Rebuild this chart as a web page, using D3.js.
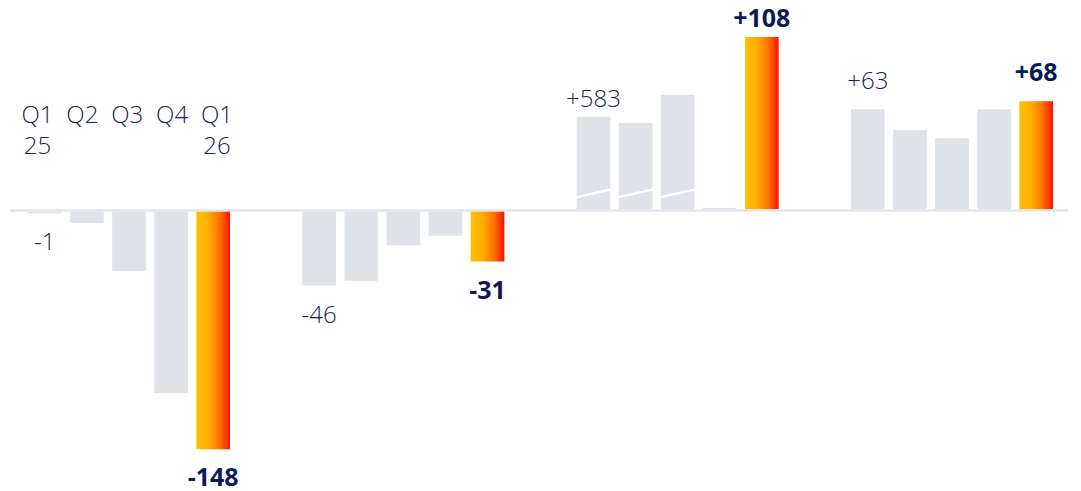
<!DOCTYPE html>
<html>
<head>
<meta charset="utf-8">
<script src="https://cdn.jsdelivr.net/npm/d3@7"></script>
<style>
  html, body { margin: 0; padding: 0; background: #fff; }
  text { font-family: "Open Sans", "Noto Sans", sans-serif; }
</style>
</head>
<body>
<div id="container"></div>
<script>
// quarters shown in each group, first and last get a year line
var quarters = ['Q1', 'Q2', 'Q3', 'Q4', 'Q1'];
var years = ['25', '', '', '', '26'];
var groups = ['g1', 'g2', 'g3', 'g4'];

// values per group (Q1 25 .. Q1 26)
var group1 = [-1, -7, -37, -113, -148];
var group2 = [-46, -43, -21, -15, -31];
var group3 = [583, 545, 720, 1.5, 108];
var group4 = [63, 50, 45, 63, 68];

// bars drawn with a scale break (shown at 1/10 height)
var broken3 = [true, true, true, false, false];

var W = 1081, H = 491;

var svg = d3.select('#container').append('svg')
  .attr('width', W)
  .attr('height', H);

var defs = svg.append('defs');
var grad = defs.append('linearGradient')
  .attr('id', 'hot')
  .attr('x1', '0%').attr('x2', '100%')
  .attr('y1', '0%').attr('y2', '0%');
grad.append('stop').attr('offset', '0%').attr('stop-color', '#ffc000');
grad.append('stop').attr('offset', '35%').attr('stop-color', '#ffae00');
grad.append('stop').attr('offset', '70%').attr('stop-color', '#ff7000');
grad.append('stop').attr('offset', '100%').attr('stop-color', '#ff1000');

var data = [group1, group2, group3, group4].map(function(vals, g) {
  return vals.map(function(v, i) {
    var isBroken = g == 2 && broken3[i];
    return {
      group: groups[g],
      idx: i,
      value: v,
      shown: isBroken ? v * 0.1 : v,
      broken: isBroken
    };
  });
});
var flat = [].concat.apply([], data);

var xGroup = d3.scaleBand()
  .domain(groups)
  .range([28, 1053])
  .paddingInner(0.2636)
  .paddingOuter(0);

var xBar = d3.scaleBand()
  .domain(d3.range(5))
  .range([0, xGroup.bandwidth()])
  .paddingInner(0.2)
  .paddingOuter(0);

var y = d3.scaleLinear()
  .domain([-148, 108])
  .range([448, 37]);

var y0 = y(0);

// baseline
svg.append('line')
  .attr('x1', 10).attr('x2', 1068)
  .attr('y1', y0).attr('y2', y0)
  .attr('stroke', '#e2e7ec')
  .attr('stroke-width', 2.5);

function barX(d) { return xGroup(d.group) + xBar(d.idx); }

svg.append('g').selectAll('rect')
  .data(flat)
  .enter()
  .append('rect')
    .attr('x', barX)
    .attr('width', xBar.bandwidth())
    .attr('y', function(d) { return d.shown < 0 ? y0 + 1.3 : y(d.shown); })
    .attr('height', function(d) {
      return d.shown < 0 ? y(d.shown) - y0 : y0 - 1.3 - y(d.shown);
    })
    .style('fill', function(d) { return d.idx == 4 ? 'url(#hot)' : '#dfe3e7'; });

// scale break slashes
svg.append('g').selectAll('line')
  .data(flat.filter(function(d) { return d.broken; }))
  .enter()
  .append('line')
    .attr('x1', function(d) { return barX(d) - 1; })
    .attr('x2', function(d) { return barX(d) + xBar.bandwidth() + 1; })
    .attr('y1', y0 - 13)
    .attr('y2', y0 - 21)
    .attr('stroke', '#fff')
    .attr('stroke-width', 2.5);

// value labels: first bar regular, last bar bold
var labelGap = { g1: 38, g2: 39, g3: 10, g4: 20 };
function fmt(v) { return (v > 0 ? '+' : v < 0 ? '-' : '') + Math.abs(Math.round(v)); }

svg.append('g').selectAll('text')
  .data(flat.filter(function(d) { return d.idx == 0 || d.idx == 4; }))
  .enter()
  .append('text')
    .attr('x', function(d) { return barX(d) + xBar.bandwidth() / 2; })
    .attr('y', function(d) {
      return d.shown < 0 ? y(d.shown) + labelGap[d.group] : y(d.shown) - labelGap[d.group];
    })
    .attr('text-anchor', 'middle')
    .style('font-size', function(d) { return d.idx == 4 ? '25px' : '24px'; })
    .style('font-weight', function(d) { return d.idx == 4 ? 700 : 300; })
    .style('fill', function(d) { return d.idx == 4 ? '#0c1a55' : '#16235c'; })
    .text(function(d) { return fmt(d.value); });

// quarter header above first group
var xq = d3.scalePoint()
  .domain(d3.range(5))
  .range([37.5, 217]);

var qg = svg.append('g')
  .style('font-size', '24px')
  .style('font-weight', 300)
  .style('fill', '#16235c')
  .attr('text-anchor', 'middle');

qg.selectAll('text.q')
  .data(quarters)
  .enter()
  .append('text')
    .attr('class', 'q')
    .attr('x', function(d, i) { return xq(i); })
    .attr('y', 123)
    .text(function(d) { return d; });

qg.selectAll('text.yr')
  .data(years)
  .enter()
  .append('text')
    .attr('class', 'yr')
    .attr('x', function(d, i) { return xq(i); })
    .attr('y', 154)
    .text(function(d) { return d; });
</script>
</body>
</html>
